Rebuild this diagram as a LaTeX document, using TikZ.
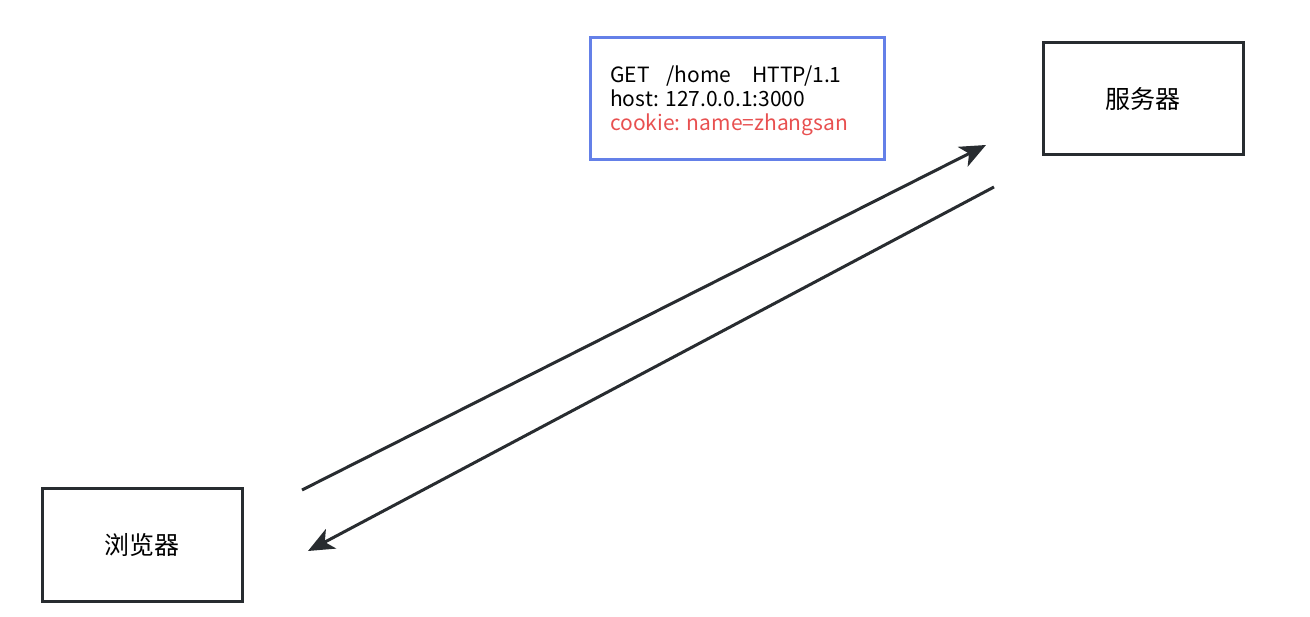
\documentclass[tikz,border=0pt]{standalone}
\usepackage{fontspec}
\setmainfont{Noto Sans CJK SC}
\usetikzlibrary{arrows.meta}
\definecolor{boxblue}{RGB}{100,128,232}
\definecolor{cookiered}{RGB}{232,80,80}
\definecolor{linegray}{RGB}{40,44,48}
\tikzset{
    endbox/.style={draw=linegray,line width=3pt,minimum width=200pt,minimum height=112pt,inner sep=0pt,font=\fontsize{25}{29}\selectfont},
    reqbox/.style={draw=boxblue,line width=3pt,minimum width=294pt,minimum height=122pt,inner sep=0pt},
    msg/.style={draw=linegray,line width=3pt,-{Stealth[length=26pt,width=22pt,inset=7pt]}}
}
\begin{document}
\begin{tikzpicture}[x=1pt,y=-1pt]
        \useasboundingbox (0,0) rectangle (1310,617);
        \node[endbox] (browser) at (142,545) {浏览器};
        \node[endbox] (server) at (1143,99) {服务器};
        \node[reqbox] (req) at (737,99) {};
        \node[align=left,anchor=west,inner sep=0pt,font=\fontsize{21}{24}\selectfont] (reqtext) at (610,101)
            {GET\hspace{0.8em}/home\hspace{1em}HTTP/1.1\\host: 127.0.0.1:3000\\\textcolor{cookiered}{cookie: name=zhangsan}};
        \coordinate (sendstart) at (302,490);
        \coordinate (sendend) at (986,145);
        \coordinate (backstart) at (994,187);
        \coordinate (backend) at (308,551);
        \draw[msg] (sendstart)--(sendend);
        \draw[msg] (backstart)--(backend);
    \end{tikzpicture}
\end{document}
